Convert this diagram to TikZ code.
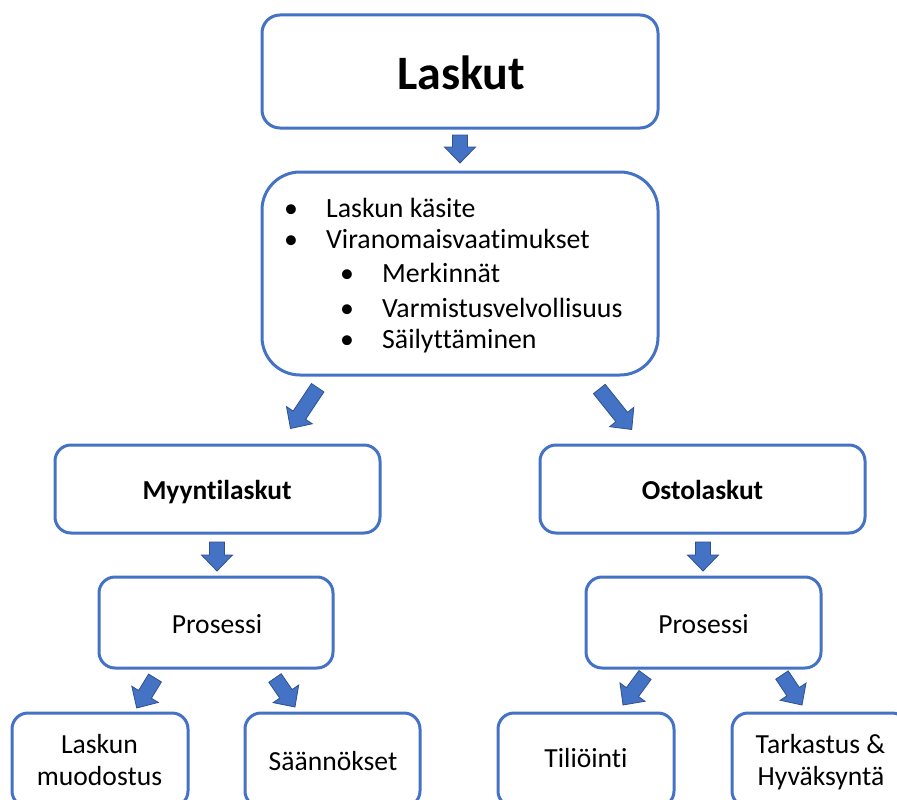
\documentclass[tikz,border=0pt]{standalone}
\usepackage{fontspec}
\setmainfont{Carlito}[Ligatures={NoCommon,NoContextual},Contextuals=NoAlternate]
\usetikzlibrary{calc}
\definecolor{boxblue}{HTML}{4472C4}
\definecolor{edgeblue}{HTML}{2F528F}
% block arrow from #1 (tail centre) to #2 (tip)
\newcommand\blockarrow[2]{%
  \coordinate (hb) at ($(#2)!16pt!(#1)$);
  \filldraw[barrow] ($(#1)!7.5pt!90:(#2)$) -- ($(hb)!7.5pt!90:(#2)$)
    -- ($(hb)!15.5pt!90:(#2)$) -- (#2) -- ($(hb)!15.5pt!-90:(#2)$)
    -- ($(hb)!7.5pt!-90:(#2)$) -- ($(#1)!7.5pt!-90:(#2)$) -- cycle;}
\begin{document}
\begin{tikzpicture}[x=1pt,y=-1pt,
  box/.style={draw=boxblue, line width=3pt, fill=white, inner sep=0pt},
  txt/.style={anchor=base, inner sep=0pt, font=\fontsize{27.6}{32}\selectfont},
  btxt/.style={anchor=base, inner sep=0pt, font=\fontsize{27.4}{32}\selectfont\bfseries},
  listline/.style={anchor=base west, inner sep=0pt, font=\fontsize{27.8}{32}\selectfont},
  barrow/.style={fill=boxblue, draw=edgeblue, line width=0.8pt, line join=miter}]
\useasboundingbox (0,0) rectangle (897,800);
\clip (0,0) rectangle (897,800);
\fill[white] (0,0) rectangle (897,800);

% boxes
\node[box, minimum width=396pt, minimum height=113pt, rounded corners=18pt] (top) at (460,71.5) {};
\node[box, minimum width=396pt, minimum height=203pt, rounded corners=38pt] (mid) at (460,273.5) {};
\node[box, minimum width=325pt, minimum height=88pt, rounded corners=16pt] (myynti) at (217.5,489) {};
\node[box, minimum width=325pt, minimum height=88pt, rounded corners=16pt] (osto) at (702.5,489) {};
\node[box, minimum width=234pt, minimum height=91pt, rounded corners=16pt] (prosL) at (216,622.5) {};
\node[box, minimum width=235pt, minimum height=91pt, rounded corners=16pt] (prosR) at (703.5,622.5) {};
\node[box, minimum width=176pt, minimum height=94pt, rounded corners=16pt] (muod) at (100,760) {};
\node[box, minimum width=175pt, minimum height=94pt, rounded corners=16pt] (saan) at (332.5,760) {};
\node[box, minimum width=176pt, minimum height=94pt, rounded corners=16pt] (tili) at (586,760) {};
\node[box, minimum width=176pt, minimum height=94pt, rounded corners=16pt] (tark) at (820,760) {};

% texts
\node[anchor=base, inner sep=0pt, font=\fontsize{48}{56}\selectfont\bfseries] (ttop) at (461,89) {Laskut};
\node[listline] (l1) at (284,217) {\makebox[42pt][l]{•}Laskun käsite};
\node[listline] (l2) at (284,248) {\makebox[42pt][l]{•}Viranomaisvaatimukset};
\node[listline] (l3) at (340,282) {\makebox[42pt][l]{•}Merkinnät};
\node[listline] (l4) at (340,317) {\makebox[42pt][l]{•}Varmistusvelvollisuus};
\node[listline] (l5) at (340,348) {\makebox[42pt][l]{•}Säilyttäminen};
\node[btxt] (tmyynti) at (217,499) {Myyntilaskut};
\node[btxt] (tosto) at (702.5,499) {Ostolaskut};
\node[txt] (tprosL) at (217,633) {Prosessi};
\node[txt] (tprosR) at (703.5,633) {Prosessi};
\node[txt] (tmuod1) at (99.5,753) {Laskun};
\node[txt] (tmuod2) at (99.5,785) {muodostus};
\node[txt] (tsaan) at (333,770) {Säännökset};
\node[txt] (ttili) at (586,767) {Tiliöinti};
\node[txt] (ttark1) at (820.5,753) {Tarkastus \&};
\node[txt] (ttark2) at (821,785) {Hyväksyntä};

% arrow end points
\coordinate (a1s) at (460,135);   \coordinate (a1e) at (460,163);
\coordinate (a2s) at (317.7,387.7); \coordinate (a2e) at (290.5,428.5);
\coordinate (a3s) at (599.3,389); \coordinate (a3e) at (631.7,429.5);
\coordinate (a4s) at (217,542);   \coordinate (a4e) at (217,571);
\coordinate (a5s) at (703,542);   \coordinate (a5e) at (703,571);
\coordinate (a6s) at (155,678);   \coordinate (a6e) at (136.7,708);
\coordinate (a7s) at (275,678);   \coordinate (a7e) at (295,707);
\coordinate (a8s) at (645,675);   \coordinate (a8e) at (623,705);
\coordinate (a9s) at (782,675);   \coordinate (a9e) at (802,705);

\blockarrow{a1s}{a1e}
\blockarrow{a2s}{a2e}
\blockarrow{a3s}{a3e}
\blockarrow{a4s}{a4e}
\blockarrow{a5s}{a5e}
\blockarrow{a6s}{a6e}
\blockarrow{a7s}{a7e}
\blockarrow{a8s}{a8e}
\blockarrow{a9s}{a9e}
\end{tikzpicture}
\end{document}
